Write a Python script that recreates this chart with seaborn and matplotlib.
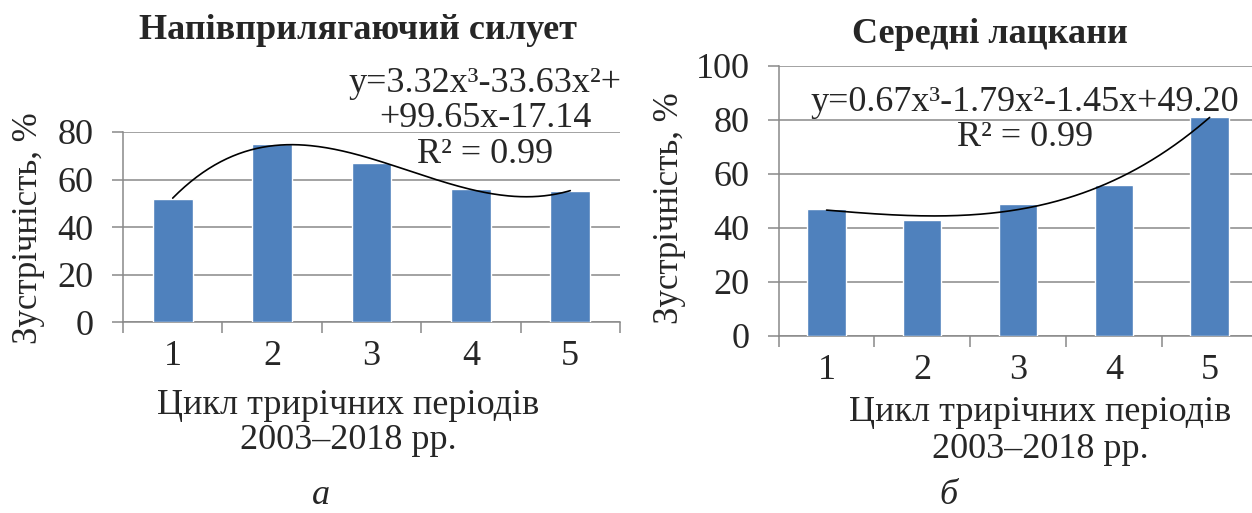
import numpy as np
import pandas as pd
import matplotlib
matplotlib.use("Agg")
import matplotlib.pyplot as plt
import seaborn as sns

# Data
periods = ["1", "2", "3", "4", "5"]
semi_fitted = [52, 75, 67, 56, 55]
mid_lapels = [47, 43, 49, 56, 81]

# Cubic trend coefficients (highest power first)
semi_coef = [3.32, -33.63, 99.65, -17.14]
lapel_coef = [0.67, -1.79, -1.45, 49.20]

semi_title = "Напівприлягаючий силует"
lapel_title = "Середні лацкани"
semi_eq = "y=3.32x³-33.63x²+\n+99.65x-17.14\nR² = 0.99"
lapel_eq = "y=0.67x³-1.79x²-1.45x+49.20\nR² = 0.99"
ylabel = "Зустрічність, %"
xlabel = "Цикл трирічних періодів\n2003–2018 рр."

sns.set_theme(style="white")
plt.rcParams["font.family"] = ["Liberation Serif", "DejaVu Serif"]
FS = 26
plt.rcParams["font.size"] = FS

BAR = "#4F81BD"
GRID = "#898989"
W, H = 1252, 513

fig = plt.figure(figsize=(W / 100, H / 100), dpi=100)


def px_box(x0, x1, y_top, y_bot):
    return [x0 / W, 1 - y_bot / H, (x1 - x0) / W, (y_bot - y_top) / H]


def draw_panel(ax, values, coef, ymax):
    df = pd.DataFrame({"period": periods, "value": values})
    sns.barplot(data=df, x="period", y="value", color=BAR, width=0.4,
                saturation=1, ax=ax, zorder=3)
    xs = np.linspace(1, len(periods), 200)
    ax.plot(xs - 1, np.polyval(coef, xs), color="black", lw=1.2, zorder=4)
    ax.set_xlim(-0.5, len(periods) - 0.5)
    ax.set_ylim(0, ymax)
    ax.set_yticks(np.arange(0, ymax + 1, 20))
    ax.yaxis.grid(True, color=GRID, lw=1.1, zorder=0)
    ax.set_axisbelow(True)
    for s in ("top", "right"):
        ax.spines[s].set_visible(False)
    for s in ("left", "bottom"):
        ax.spines[s].set_color(GRID)
        ax.spines[s].set_linewidth(1.1)
        ax.spines[s].set_zorder(2)
    ax.set_xticks(np.arange(-0.5, len(periods)), minor=True)
    ax.tick_params(axis="x", which="major", length=0, pad=13, labelsize=FS)
    ax.tick_params(axis="x", which="minor", length=8, width=1.1, color=GRID,
                   direction="out", bottom=True)
    ax.tick_params(axis="y", which="major", length=8, width=1.1, color=GRID,
                   direction="out", left=True, pad=13, labelsize=FS)
    ax.set_xlabel("")
    ax.set_ylabel("")


ax1 = fig.add_axes(px_box(123, 620, 132, 322.3))
draw_panel(ax1, semi_fitted, semi_coef, 80)
ax2 = fig.add_axes(px_box(778.7, 1257.5, 66, 336))
draw_panel(ax2, mid_lapels, lapel_coef, 100)


def ftext(x, y, s, **kw):
    kw.setdefault("ha", "center")
    kw.setdefault("va", "center")
    kw.setdefault("fontsize", FS)
    fig.text(x / W, 1 - y / H, s, **kw)


# Titles
ftext(358, 31, semi_title, fontweight="bold")
ftext(990, 35, lapel_title, fontweight="bold")

# Axis labels
ftext(29, 228, ylabel, rotation=90, fontsize=25)
ftext(670, 208, ylabel, rotation=90, fontsize=25)
ftext(348, 423, xlabel, linespacing=1.1)
ftext(1040, 431, xlabel, linespacing=1.15)

# Trend equations
ftext(485, 119, semi_eq, linespacing=1.1, multialignment="center")
ftext(1025, 120, lapel_eq, linespacing=1.1, multialignment="center")

# Panel letters
ftext(321, 495, "а", style="italic")
ftext(948, 495, "б", style="italic")

fig.savefig("out.png", dpi=100)
